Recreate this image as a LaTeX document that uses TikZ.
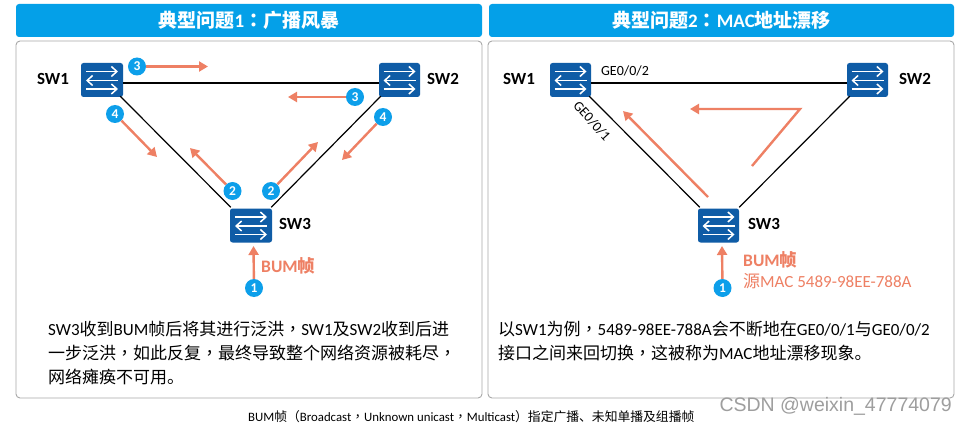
\documentclass[tikz,border=0pt]{standalone}
\usepackage{fontspec}
\usetikzlibrary{arrows.meta}
\setmainfont{Carlito}
\newfontfamily\cj{Noto Sans CJK SC}
\newfontfamily\cp{Noto Sans CJK TC}
\newfontfamily\wm{Liberation Sans}
\definecolor{hdr}{HTML}{04A0E8}
\definecolor{swc}{HTML}{0F5CA6}
\definecolor{sal}{HTML}{EE8064}
\definecolor{badge}{HTML}{0D9FEA}
\definecolor{edgeg}{HTML}{A8A8A8}
\tikzset{
  x=1pt,y=-1pt,
  hdrbox/.style={fill=hdr,rounded corners=3pt,inner sep=0pt,minimum width=466pt,minimum height=33pt,text=white,font=\bfseries\fontsize{19}{22}\selectfont},
  panelbox/.style={draw=edgeg,line width=0.9pt,fill=white,rounded corners=4pt,inner sep=0pt,minimum width=466pt,minimum height=357pt},
  swbox/.style={fill=swc,rounded corners=2.5pt,minimum width=42pt,minimum height=34pt,inner sep=0pt},
  swlabel/.style={font=\bfseries\fontsize{17}{19}\selectfont,inner sep=0pt},
  link/.style={draw=black,line width=1.2pt},
  numb/.style={circle,fill=badge,minimum size=18pt,inner sep=0pt,text=white,font=\bfseries\fontsize{13.5}{13.5}\selectfont},
  flow/.style={draw=sal,line width=2.4pt,-{Triangle[length=9pt,width=10pt]}},
  swar/.style={draw=white,line width=1.5pt,-{Straight Barb[length=5.5pt,width=10pt,line width=1.5pt]}},
  bodytext/.style={anchor=west,inner sep=0pt,font=\fontsize{17}{20}\selectfont},
  iflabel/.style={inner sep=0pt,font=\fontsize{14}{15}\selectfont},
}
\newcommand{\swicon}[1]{%
  \draw[swar] ([shift={(-16pt,8.5pt)}]#1.center) -- ([shift={(16pt,8.5pt)}]#1.center);
  \draw[swar] ([shift={(16pt,-0.5pt)}]#1.center) -- ([shift={(-16pt,-0.5pt)}]#1.center);
  \draw[swar] ([shift={(-16pt,-9pt)}]#1.center) -- ([shift={(16pt,-9pt)}]#1.center);
}
\begin{document}
\begin{tikzpicture}
\useasboundingbox (0,0) rectangle (967,425);
\fill[white] (0,0) rectangle (967,425);
% panels
\node[hdrbox] (h1) at (249,20.5) {{\cj 典型问题}1{\cp ：}{\cj 广播风暴}};
\node[hdrbox,minimum width=465pt] (h2) at (721.5,20.5) {{\cj 典型问题}2{\cp ：}MAC{\cj 地址漂移}};
\node[panelbox] (p1) at (249,219.5) {};
\node[panelbox] (p2) at (721,219.5) {};
% left switches
\node[swbox] (a1) at (102,80) {};
\node[swbox,minimum width=41pt] (a2) at (399.5,80) {};
\node[swbox] (a3) at (251,225.5) {};
\draw[link] ([yshift=-3pt]a1.east) -- ([yshift=-3pt]a2.west);
\draw[link] ([shift={(-3pt,1pt)}]a1.south east) -- ([shift={(1pt,1pt)}]a3.north west);
\draw[link] ([shift={(2pt,1pt)}]a2.south west) -- ([shift={(-1pt,1pt)}]a3.north east);
\swicon{a1}\swicon{a2}\swicon{a3}
\node[swlabel] (la1) at (53,79) {SW1};
\node[swlabel] (la2) at (443,79) {SW2};
\node[swlabel] (la3) at (295,224) {SW3};
% left badges and flows
\node[numb] (n3a) at (137,66.5) {3};
\node[numb] (n3b) at (355,97) {3};
\node[numb] (n4a) at (115,114) {4};
\node[numb] (n4b) at (383,117) {4};
\node[numb] (n2a) at (232.5,191) {2};
\node[numb] (n2b) at (271,191) {2};
\node[numb] (n1a) at (254,288) {1};
\coordinate (t3a) at (208,66.5);
\coordinate (t3b) at (288,97);
\coordinate (t4a) at (157,157);
\coordinate (t4b) at (342,160);
\coordinate (t2a) at (190,148);
\coordinate (t2b) at (318,142);
\coordinate (t1a) at (253.5,246);
\draw[flow] (n3a) -- (t3a);
\draw[flow] (n3b) -- (t3b);
\draw[flow] (n4a) -- (t4a);
\draw[flow] (n4b) -- (t4b);
\draw[flow] (n2a) -- (t2a);
\draw[flow] (n2b) -- (t2b);
\draw[flow] (n1a) -- (t1a);
\node[anchor=west,inner sep=0pt,text=sal,font=\bfseries\fontsize{17.5}{19}\selectfont] (ba) at (261,266) {BUM{\cj 帧}};
\node[bodytext] (ta1) at (48,329) {SW3{\cj 收到}BUM{\cj 帧后将其进行泛洪}{\cp ，}SW1{\cj 及}SW2{\cj 收到后进}};
\node[bodytext] (ta2) at (48,353) {{\cj 一步泛洪}{\cp ，}{\cj 如此反复}{\cp ，}{\cj 最终导致整个网络资源被耗尽}{\cp ，}};
\node[bodytext] (ta3) at (48,377) {{\cj 网络瘫痪不可用。}};
% right switches
\node[swbox,minimum width=41pt] (b1) at (570.5,80) {};
\node[swbox,minimum width=41pt] (b2) at (867.5,80) {};
\node[swbox,minimum width=41pt] (b3) at (718.5,225.5) {};
\draw[link] ([yshift=-3pt]b1.east) -- ([yshift=-3pt]b2.west);
\draw[link] ([shift={(-2pt,1pt)}]b1.south east) -- ([shift={(2pt,1pt)}]b3.north west);
\draw[link] ([shift={(3pt,1pt)}]b2.south west) -- ([shift={(0pt,1pt)}]b3.north east);
\swicon{b1}\swicon{b2}\swicon{b3}
\node[swlabel] (lb1) at (519,79) {SW1};
\node[swlabel] (lb2) at (915,79) {SW2};
\node[swlabel] (lb3) at (764,224) {SW3};
\node[iflabel] (g2) at (625,71) {GE0/0/2};
\node[iflabel,rotate=-48] (g1) at (592,121) {GE0/0/1};
% right flows
\coordinate (f1s) at (708,197);
\coordinate (f1e) at (623,111);
\coordinate (f2s) at (752,166);
\coordinate (f2m) at (800,109);
\coordinate (f2e) at (690,109);
\draw[flow] (f1s) -- (f1e);
\draw[flow,line width=2.4pt] (f2s) -- (f2m) -- (f2e);
\node[numb] (n1b) at (722.5,288) {1};
\coordinate (t1b) at (722,246);
\draw[flow] (n1b) -- (t1b);
\node[anchor=west,inner sep=0pt,text=sal,font=\bfseries\fontsize{17.5}{19}\selectfont] (bb) at (743,260) {BUM{\cj 帧}};
\node[anchor=west,inner sep=0pt,text=sal,font=\fontsize{17}{20}\selectfont] (bc) at (743,281) {{\cj 源}MAC 5489-98EE-788A};
\node[bodytext] (tb1) at (498,329) {{\cj 以}SW1{\cj 为例}{\cp ，}5489-98EE-788A{\cj 会不断地在}GE0/0/1{\cj 与}GE0/0/2};
\node[bodytext] (tb2) at (498,353) {{\cj 接口之间来回切换}{\cp ，}{\cj 这被称为}MAC{\cj 地址漂移现象。}};
% footer
\node[anchor=west,inner sep=0pt,font=\fontsize{12.8}{15}\selectfont] (cap) at (248,417) {BUM{\cj 帧}{\cp （}Broadcast{\cp ，}Unknown unicast{\cp ，}Multicast{\cp ）}{\cj 指定广播、未知单播及组播帧}};
\node[anchor=east,inner sep=0pt,text=black!38,font=\wm\fontsize{19.5}{21}\selectfont] (mark) at (952,406) {CSDN @weixin\_47774079};
\end{tikzpicture}
\end{document}
